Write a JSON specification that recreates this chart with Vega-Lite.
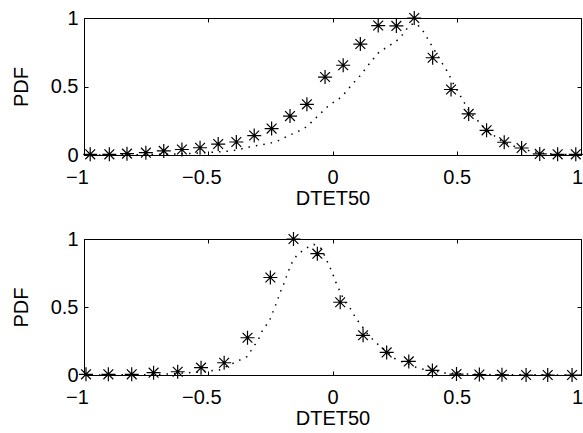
{
  "$schema": "https://vega.github.io/schema/vega-lite/v6.json",
  "background": "white",
  "padding": {"left": 10, "top": 7, "right": 0, "bottom": 0},
  "spacing": 84,
  "bounds": "flush",
  "config": {
    "view": {"stroke": "black", "strokeWidth": 1},
    "axis": {
      "labelFont": "Liberation Sans", "titleFont": "Liberation Sans",
      "labelFontSize": 20, "titleFontSize": 20, "titleFontWeight": "normal",
      "labelColor": "black", "titleColor": "black",
      "domainColor": "black", "tickColor": "black", "grid": false, "labelFlush": false
    }
  },
  "datasets": {
    "pts": [
      {"panel": "a", "x": -0.975, "y": 0.005}, {"panel": "a", "x": -0.898, "y": 0.005}, {"panel": "a", "x": -0.827, "y": 0.01},
      {"panel": "a", "x": -0.751, "y": 0.017}, {"panel": "a", "x": -0.679, "y": 0.03}, {"panel": "a", "x": -0.606, "y": 0.04},
      {"panel": "a", "x": -0.533, "y": 0.053}, {"panel": "a", "x": -0.46, "y": 0.08}, {"panel": "a", "x": -0.387, "y": 0.095},
      {"panel": "a", "x": -0.315, "y": 0.142}, {"panel": "a", "x": -0.245, "y": 0.193}, {"panel": "a", "x": -0.171, "y": 0.284},
      {"panel": "a", "x": -0.103, "y": 0.37}, {"panel": "a", "x": -0.03, "y": 0.569}, {"panel": "a", "x": 0.043, "y": 0.655},
      {"panel": "a", "x": 0.112, "y": 0.81}, {"panel": "a", "x": 0.184, "y": 0.945}, {"panel": "a", "x": 0.257, "y": 0.942},
      {"panel": "a", "x": 0.329, "y": 1.0}, {"panel": "a", "x": 0.403, "y": 0.71}, {"panel": "a", "x": 0.477, "y": 0.478},
      {"panel": "a", "x": 0.548, "y": 0.3}, {"panel": "a", "x": 0.62, "y": 0.18}, {"panel": "a", "x": 0.691, "y": 0.093},
      {"panel": "a", "x": 0.761, "y": 0.051}, {"panel": "a", "x": 0.834, "y": 0.008}, {"panel": "a", "x": 0.906, "y": 0.005},
      {"panel": "a", "x": 0.979, "y": 0.005},
      {"panel": "b", "x": -0.992, "y": 0.005}, {"panel": "b", "x": -0.902, "y": 0.005}, {"panel": "b", "x": -0.808, "y": 0.005},
      {"panel": "b", "x": -0.72, "y": 0.017}, {"panel": "b", "x": -0.623, "y": 0.024}, {"panel": "b", "x": -0.529, "y": 0.054},
      {"panel": "b", "x": -0.436, "y": 0.09}, {"panel": "b", "x": -0.342, "y": 0.274}, {"panel": "b", "x": -0.25, "y": 0.717},
      {"panel": "b", "x": -0.157, "y": 1.0}, {"panel": "b", "x": -0.061, "y": 0.892}, {"panel": "b", "x": 0.031, "y": 0.535},
      {"panel": "b", "x": 0.123, "y": 0.292}, {"panel": "b", "x": 0.218, "y": 0.166}, {"panel": "b", "x": 0.307, "y": 0.1},
      {"panel": "b", "x": 0.402, "y": 0.034}, {"panel": "b", "x": 0.499, "y": 0.007}, {"panel": "b", "x": 0.591, "y": 0.003},
      {"panel": "b", "x": 0.682, "y": 0.002}, {"panel": "b", "x": 0.779, "y": 0.0}, {"panel": "b", "x": 0.866, "y": 0.0},
      {"panel": "b", "x": 0.964, "y": 0.0}
    ],
    "crv": [
      {"panel": "a", "x": -1.0, "y": 0.0}, {"panel": "a", "x": -0.8, "y": 0.002}, {"panel": "a", "x": -0.6, "y": 0.008},
      {"panel": "a", "x": -0.5, "y": 0.018}, {"panel": "a", "x": -0.41, "y": 0.029}, {"panel": "a", "x": -0.375, "y": 0.041},
      {"panel": "a", "x": -0.335, "y": 0.058}, {"panel": "a", "x": -0.29, "y": 0.073}, {"panel": "a", "x": -0.254, "y": 0.084},
      {"panel": "a", "x": -0.214, "y": 0.107}, {"panel": "a", "x": -0.174, "y": 0.144}, {"panel": "a", "x": -0.14, "y": 0.17},
      {"panel": "a", "x": -0.103, "y": 0.207}, {"panel": "a", "x": -0.073, "y": 0.26}, {"panel": "a", "x": -0.012, "y": 0.367},
      {"panel": "a", "x": 0.024, "y": 0.406}, {"panel": "a", "x": 0.054, "y": 0.46}, {"panel": "a", "x": 0.079, "y": 0.516},
      {"panel": "a", "x": 0.108, "y": 0.572}, {"panel": "a", "x": 0.159, "y": 0.691}, {"panel": "a", "x": 0.189, "y": 0.754},
      {"panel": "a", "x": 0.222, "y": 0.79}, {"panel": "a", "x": 0.26, "y": 0.837}, {"panel": "a", "x": 0.285, "y": 0.885},
      {"panel": "a", "x": 0.309, "y": 0.946}, {"panel": "a", "x": 0.332, "y": 0.962}, {"panel": "a", "x": 0.356, "y": 0.929},
      {"panel": "a", "x": 0.379, "y": 0.861}, {"panel": "a", "x": 0.443, "y": 0.665}, {"panel": "a", "x": 0.465, "y": 0.601},
      {"panel": "a", "x": 0.484, "y": 0.528}, {"panel": "a", "x": 0.55, "y": 0.32}, {"panel": "a", "x": 0.62, "y": 0.18},
      {"panel": "a", "x": 0.69, "y": 0.09}, {"panel": "a", "x": 0.76, "y": 0.045}, {"panel": "a", "x": 0.83, "y": 0.015},
      {"panel": "a", "x": 0.9, "y": 0.005}, {"panel": "a", "x": 1.0, "y": 0.0},
      {"panel": "b", "x": -1.0, "y": 0.0}, {"panel": "b", "x": -0.7, "y": 0.003}, {"panel": "b", "x": -0.55, "y": 0.02},
      {"panel": "b", "x": -0.456, "y": 0.037}, {"panel": "b", "x": -0.381, "y": 0.103}, {"panel": "b", "x": -0.344, "y": 0.135},
      {"panel": "b", "x": -0.298, "y": 0.262}, {"panel": "b", "x": -0.281, "y": 0.331}, {"panel": "b", "x": -0.254, "y": 0.397},
      {"panel": "b", "x": -0.225, "y": 0.532}, {"panel": "b", "x": -0.211, "y": 0.605}, {"panel": "b", "x": -0.194, "y": 0.679},
      {"panel": "b", "x": -0.18, "y": 0.752}, {"panel": "b", "x": -0.163, "y": 0.826}, {"panel": "b", "x": -0.143, "y": 0.882},
      {"panel": "b", "x": -0.107, "y": 0.932}, {"panel": "b", "x": -0.075, "y": 0.96}, {"panel": "b", "x": -0.045, "y": 0.93},
      {"panel": "b", "x": -0.019, "y": 0.826}, {"panel": "b", "x": -0.002, "y": 0.757}, {"panel": "b", "x": 0.014, "y": 0.679},
      {"panel": "b", "x": 0.031, "y": 0.61}, {"panel": "b", "x": 0.05, "y": 0.54}, {"panel": "b", "x": 0.074, "y": 0.483},
      {"panel": "b", "x": 0.094, "y": 0.417}, {"panel": "b", "x": 0.123, "y": 0.348}, {"panel": "b", "x": 0.144, "y": 0.294},
      {"panel": "b", "x": 0.175, "y": 0.238}, {"panel": "b", "x": 0.255, "y": 0.115}, {"panel": "b", "x": 0.345, "y": 0.05},
      {"panel": "b", "x": 0.45, "y": 0.015}, {"panel": "b", "x": 0.6, "y": 0.003}, {"panel": "b", "x": 1.0, "y": 0.0}
    ]
  },
  "vconcat": [
    {
      "width": 497, "height": 137,
      "resolve": {"axis": {"x": "independent", "y": "independent"}},
      "layer": [
        {
          "data": {"name": "crv"},
          "transform": [{"filter": "datum.panel == 'a'"}],
          "mark": {"type": "line", "color": "black", "strokeWidth": 1.5, "strokeDash": [1.5, 6]},
          "encoding": {
            "x": {"field": "x", "type": "quantitative", "scale": {"domain": [-1, 1], "nice": false},
                  "axis": {"orient": "top", "labels": false, "title": null, "domain": false, "values": [-1, -0.5, 0, 0.5, 1], "tickSize": -4}},
            "y": {"field": "y", "type": "quantitative", "scale": {"domain": [0, 1], "nice": false},
                  "axis": {"orient": "right", "labels": false, "title": null, "domain": false, "values": [0, 0.5, 1], "tickSize": -4}}
          }
        },
        {
          "data": {"name": "pts"},
          "transform": [{"filter": "datum.panel == 'a'"}],
          "mark": {"type": "point", "shape": "M-1,0L1,0M0,-1L0,1M-0.7,-0.7L0.7,0.7M-0.7,0.7L0.7,-0.7", "filled": false, "color": "black", "size": 196, "strokeWidth": 1.2, "opacity": 1},
          "encoding": {
            "x": {"field": "x", "type": "quantitative",
                  "axis": {"orient": "bottom", "title": "DTET50", "format": "~g", "domain": false, "values": [-1, -0.5, 0, 0.5, 1], "tickSize": -4, "labelPadding": 16, "titlePadding": 1,
                           "labelOffset": {"condition": [{"test": "datum.value < 0", "value": -7}, {"test": "datum.value >= 1", "value": -4}], "value": 0}}},
            "y": {"field": "y", "type": "quantitative",
                  "axis": {"orient": "left", "title": "PDF", "format": "~g", "domain": false, "values": [0, 0.5, 1], "tickSize": -4, "labelPadding": 10, "titleX": -63, "titleBaseline": "middle"}}
          }
        }
      ]
    },
    {
      "width": 497, "height": 136,
      "resolve": {"axis": {"x": "independent", "y": "independent"}},
      "layer": [
        {
          "data": {"name": "crv"},
          "transform": [{"filter": "datum.panel == 'b'"}],
          "mark": {"type": "line", "color": "black", "strokeWidth": 1.5, "strokeDash": [1.5, 6]},
          "encoding": {
            "x": {"field": "x", "type": "quantitative", "scale": {"domain": [-1, 1], "nice": false},
                  "axis": {"orient": "top", "labels": false, "title": null, "domain": false, "values": [-1, -0.5, 0, 0.5, 1], "tickSize": -4}},
            "y": {"field": "y", "type": "quantitative", "scale": {"domain": [0, 1], "nice": false},
                  "axis": {"orient": "right", "labels": false, "title": null, "domain": false, "values": [0, 0.5, 1], "tickSize": -4}}
          }
        },
        {
          "data": {"name": "pts"},
          "transform": [{"filter": "datum.panel == 'b'"}],
          "mark": {"type": "point", "shape": "M-1,0L1,0M0,-1L0,1M-0.7,-0.7L0.7,0.7M-0.7,0.7L0.7,-0.7", "filled": false, "color": "black", "size": 196, "strokeWidth": 1.2, "opacity": 1},
          "encoding": {
            "x": {"field": "x", "type": "quantitative",
                  "axis": {"orient": "bottom", "title": "DTET50", "format": "~g", "domain": false, "values": [-1, -0.5, 0, 0.5, 1], "tickSize": -4, "labelPadding": 16, "titlePadding": 1,
                           "labelOffset": {"condition": [{"test": "datum.value < 0", "value": -7}, {"test": "datum.value >= 1", "value": -4}], "value": 0}}},
            "y": {"field": "y", "type": "quantitative",
                  "axis": {"orient": "left", "title": "PDF", "format": "~g", "domain": false, "values": [0, 0.5, 1], "tickSize": -4, "labelPadding": 10, "titleX": -63, "titleBaseline": "middle"}}
          }
        }
      ]
    }
  ]
}
